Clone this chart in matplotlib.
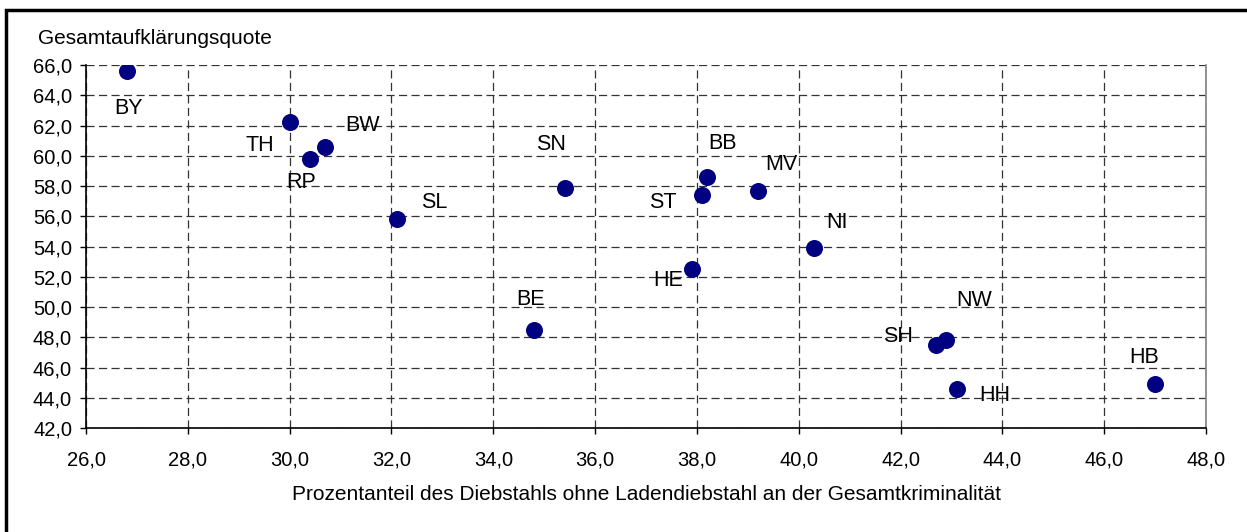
import matplotlib
matplotlib.use("Agg")
import matplotlib.pyplot as plt
from matplotlib.patches import Rectangle
from matplotlib.ticker import FuncFormatter, MultipleLocator

plt.rcParams['font.family'] = ['Liberation Sans', 'DejaVu Sans']

# Data
laender = ["BY", "TH", "BW", "RP", "SL", "SN", "BE", "BB", "ST", "MV", "NI", "HE", "SH", "NW", "HH", "HB"]
diebstahl_anteil = [26.8, 30.0, 30.7, 30.4, 32.1, 35.4, 34.8, 38.2, 38.1, 39.2, 40.3, 37.9, 42.7, 42.9, 43.1, 47.0]
aufklaerungsquote = [65.6, 62.2, 60.6, 59.8, 55.8, 57.9, 48.5, 58.6, 57.4, 57.7, 53.9, 52.5, 47.5, 47.8, 44.6, 44.9]

# label offsets in pixels (dx, dy up)
label_offsets = {
    "BY": (2, -37), "TH": (-30, -23), "BW": (37, 21), "RP": (-9, -24),
    "SL": (38, 17), "SN": (-14, 43), "BE": (-3, 30), "BB": (15, 33),
    "ST": (-39, -7), "MV": (23, 26), "NI": (23, 26), "HE": (-24, -11),
    "SH": (-38, 8), "NW": (28, 40), "HH": (38, -7), "HB": (-11, 27),
}

W, H = 1247, 532
fig = plt.figure(figsize=(W / 100, H / 100), dpi=100)
fig.patch.set_facecolor("white")

# outer frame
fig.patches.append(Rectangle((6 / W, -0.05), 1.2, (H - 10) / H + 0.05, transform=fig.transFigure,
                             fill=False, edgecolor="black", linewidth=2.5, zorder=10))

ax_l, ax_r, ax_t, ax_b = 86, 1206, 65, 428
ax = fig.add_axes([ax_l / W, 1 - ax_b / H, (ax_r - ax_l) / W, (ax_b - ax_t) / H])

ax.scatter(diebstahl_anteil, aufklaerungsquote, s=150, color="#000080", zorder=5, linewidths=0)

for name, x, y in zip(laender, diebstahl_anteil, aufklaerungsquote):
    dx, dy = label_offsets[name]
    ax.annotate(name, (x, y), xytext=(dx * 0.72, dy * 0.72), textcoords="offset points",
                ha="center", va="center", fontsize=15.5, color="black", zorder=6)

ax.set_xlim(26, 48)
ax.set_ylim(42, 66)
ax.xaxis.set_major_locator(MultipleLocator(2))
ax.yaxis.set_major_locator(MultipleLocator(2))
fmt = FuncFormatter(lambda v, p: f"{v:.1f}".replace(".", ","))
ax.xaxis.set_major_formatter(fmt)
ax.yaxis.set_major_formatter(fmt)
ax.tick_params(axis="both", labelsize=14.5, length=4.5, width=1, direction="out", color="black")
ax.tick_params(axis="y", pad=5.5)
ax.tick_params(axis="x", pad=12)

ax.grid(True, linestyle=(0, (6.5, 3.5)), color="#333333", linewidth=0.9)
ax.set_axisbelow(True)

ax.spines["left"].set_color("black")
ax.spines["bottom"].set_color("black")
ax.spines["left"].set_linewidth(1.2)
ax.spines["bottom"].set_linewidth(1.2)
ax.spines["top"].set_visible(False)
ax.spines["right"].set_color("#808080")
ax.spines["right"].set_linewidth(1.2)

fig.text(38 / W, 1 - 39 / H, "Gesamtaufklärungsquote", ha="left", va="center", fontsize=15)
fig.text((ax_l + ax_r) / 2 / W, 1 - 494 / H,
         "Prozentanteil des Diebstahls ohne Ladendiebstahl an der Gesamtkriminalität",
         ha="center", va="center", fontsize=15)

fig.savefig("out.png", dpi=100)
